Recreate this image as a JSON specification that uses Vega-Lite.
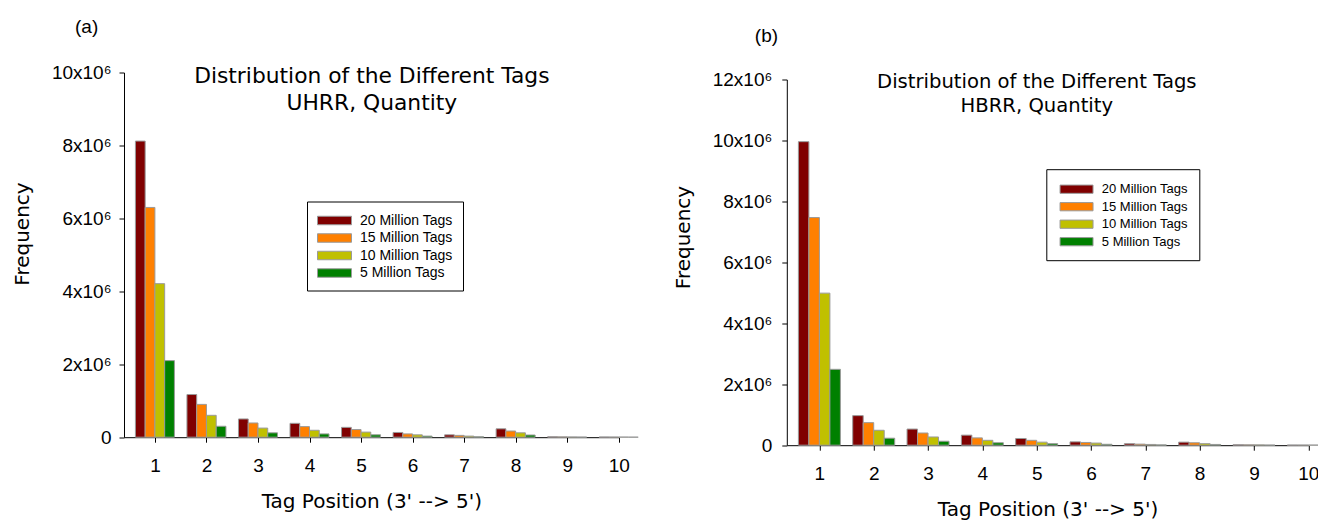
{
  "$schema": "https://vega.github.io/schema/vega-lite/v6.json",
  "background": "white",
  "padding": {"left": 12, "top": 17.5, "right": 5, "bottom": 0},
  "config": {
    "view": {"stroke": null},
    "font": "Liberation Sans",
    "axis": {"grid": false, "domainColor": "#000", "tickColor": "#000", "labelColor": "#000", "titleColor": "#000", "labelFont": "Liberation Sans", "titleFont": "DejaVu Sans", "titleFontWeight": "normal", "labelFontSize": 19, "titleFontSize": 20, "tickSize": 5, "domainWidth": 1, "tickWidth": 1},
    "title": {"font": "Liberation Sans", "fontWeight": "normal", "color": "#000", "fontSize": 19},
    "bar": {"stroke": "#9a9a9a", "strokeWidth": 1}
  },
  "datasets": {
    "a": [
      {"pos": 1, "series": "20 Million Tags", "freq": 8120000},
      {"pos": 1, "series": "15 Million Tags", "freq": 6300000},
      {"pos": 1, "series": "10 Million Tags", "freq": 4210000},
      {"pos": 1, "series": "5 Million Tags", "freq": 2100000},
      {"pos": 2, "series": "20 Million Tags", "freq": 1170000},
      {"pos": 2, "series": "15 Million Tags", "freq": 900000},
      {"pos": 2, "series": "10 Million Tags", "freq": 600000},
      {"pos": 2, "series": "5 Million Tags", "freq": 300000},
      {"pos": 3, "series": "20 Million Tags", "freq": 500000},
      {"pos": 3, "series": "15 Million Tags", "freq": 390000},
      {"pos": 3, "series": "10 Million Tags", "freq": 250000},
      {"pos": 3, "series": "5 Million Tags", "freq": 120000},
      {"pos": 4, "series": "20 Million Tags", "freq": 380000},
      {"pos": 4, "series": "15 Million Tags", "freq": 290000},
      {"pos": 4, "series": "10 Million Tags", "freq": 190000},
      {"pos": 4, "series": "5 Million Tags", "freq": 90000},
      {"pos": 5, "series": "20 Million Tags", "freq": 270000},
      {"pos": 5, "series": "15 Million Tags", "freq": 210000},
      {"pos": 5, "series": "10 Million Tags", "freq": 140000},
      {"pos": 5, "series": "5 Million Tags", "freq": 65000},
      {"pos": 6, "series": "20 Million Tags", "freq": 130000},
      {"pos": 6, "series": "15 Million Tags", "freq": 90000},
      {"pos": 6, "series": "10 Million Tags", "freq": 65000},
      {"pos": 6, "series": "5 Million Tags", "freq": 30000},
      {"pos": 7, "series": "20 Million Tags", "freq": 65000},
      {"pos": 7, "series": "15 Million Tags", "freq": 50000},
      {"pos": 7, "series": "10 Million Tags", "freq": 30000},
      {"pos": 7, "series": "5 Million Tags", "freq": 12000},
      {"pos": 8, "series": "20 Million Tags", "freq": 230000},
      {"pos": 8, "series": "15 Million Tags", "freq": 170000},
      {"pos": 8, "series": "10 Million Tags", "freq": 120000},
      {"pos": 8, "series": "5 Million Tags", "freq": 60000},
      {"pos": 9, "series": "20 Million Tags", "freq": 12000},
      {"pos": 9, "series": "15 Million Tags", "freq": 9000},
      {"pos": 9, "series": "10 Million Tags", "freq": 6000},
      {"pos": 9, "series": "5 Million Tags", "freq": 3000},
      {"pos": 10, "series": "20 Million Tags", "freq": 6000},
      {"pos": 10, "series": "15 Million Tags", "freq": 4000},
      {"pos": 10, "series": "10 Million Tags", "freq": 3000},
      {"pos": 10, "series": "5 Million Tags", "freq": 1500}
    ],
    "b": [
      {"pos": 1, "series": "20 Million Tags", "freq": 9960000},
      {"pos": 1, "series": "15 Million Tags", "freq": 7470000},
      {"pos": 1, "series": "10 Million Tags", "freq": 4990000},
      {"pos": 1, "series": "5 Million Tags", "freq": 2490000},
      {"pos": 2, "series": "20 Million Tags", "freq": 970000},
      {"pos": 2, "series": "15 Million Tags", "freq": 740000},
      {"pos": 2, "series": "10 Million Tags", "freq": 490000},
      {"pos": 2, "series": "5 Million Tags", "freq": 230000},
      {"pos": 3, "series": "20 Million Tags", "freq": 530000},
      {"pos": 3, "series": "15 Million Tags", "freq": 400000},
      {"pos": 3, "series": "10 Million Tags", "freq": 270000},
      {"pos": 3, "series": "5 Million Tags", "freq": 130000},
      {"pos": 4, "series": "20 Million Tags", "freq": 330000},
      {"pos": 4, "series": "15 Million Tags", "freq": 240000},
      {"pos": 4, "series": "10 Million Tags", "freq": 160000},
      {"pos": 4, "series": "5 Million Tags", "freq": 80000},
      {"pos": 5, "series": "20 Million Tags", "freq": 220000},
      {"pos": 5, "series": "15 Million Tags", "freq": 160000},
      {"pos": 5, "series": "10 Million Tags", "freq": 100000},
      {"pos": 5, "series": "5 Million Tags", "freq": 50000},
      {"pos": 6, "series": "20 Million Tags", "freq": 110000},
      {"pos": 6, "series": "15 Million Tags", "freq": 90000},
      {"pos": 6, "series": "10 Million Tags", "freq": 70000},
      {"pos": 6, "series": "5 Million Tags", "freq": 30000},
      {"pos": 7, "series": "20 Million Tags", "freq": 50000},
      {"pos": 7, "series": "15 Million Tags", "freq": 35000},
      {"pos": 7, "series": "10 Million Tags", "freq": 25000},
      {"pos": 7, "series": "5 Million Tags", "freq": 10000},
      {"pos": 8, "series": "20 Million Tags", "freq": 100000},
      {"pos": 8, "series": "15 Million Tags", "freq": 80000},
      {"pos": 8, "series": "10 Million Tags", "freq": 50000},
      {"pos": 8, "series": "5 Million Tags", "freq": 25000},
      {"pos": 9, "series": "20 Million Tags", "freq": 15000},
      {"pos": 9, "series": "15 Million Tags", "freq": 12000},
      {"pos": 9, "series": "10 Million Tags", "freq": 10000},
      {"pos": 9, "series": "5 Million Tags", "freq": 5000},
      {"pos": 10, "series": "20 Million Tags", "freq": 6000},
      {"pos": 10, "series": "15 Million Tags", "freq": 5000},
      {"pos": 10, "series": "10 Million Tags", "freq": 4000},
      {"pos": 10, "series": "5 Million Tags", "freq": 2000}
    ]
  },
  "bounds": "flush",
  "spacing": 167.8,
  "resolve": {"scale": {"color": "independent", "x": "independent", "y": "independent"}, "legend": {"color": "independent"}, "axis": {"x": "independent", "y": "independent"}},
  "hconcat": [
    {
      "width": 494.7,
      "height": 364.7,
      "title": {"text": "(a)", "anchor": "start", "frame": "group", "dx": -49, "offset": 27},
      "data": {"name": "a"},
      "resolve": {"axis": {"x": "independent"}},
      "encoding": {
        "x": {"field": "pos", "type": "quantitative", "scale": {"domain": [0.4, 10], "nice": false, "zero": false, "padding": 0}, "axis": null},
        "y": {"field": "freq", "type": "quantitative", "stack": null, "scale": {"domain": [0, 10000000], "nice": false},
          "axis": {"values": [0, 2000000, 4000000, 6000000, 8000000, 10000000], "labelExpr": "datum.value == 0 ? '0' : format(datum.value / 1000000, 'd') + 'x10⁶'", "labelPadding": 8, "title": "Frequency", "titleX": -95.7, "titleY": 161, "titleBaseline": "alphabetic", "titleAlign": "center", "titleAngle": -90}},
        "color": {"field": "series", "type": "nominal",
          "scale": {"domain": ["20 Million Tags", "15 Million Tags", "10 Million Tags", "5 Million Tags"], "range": ["#800000", "#ff8000", "#c0c000", "#008000"]},
          "legend": {"orient": "none", "legendX": 183, "legendY": 129, "title": null, "strokeColor": "#000", "fillColor": "white", "padding": 10, "symbolType": "M-2,-0.5L2,-0.5L2,0.5L-2,0.5Z", "symbolSize": 289, "symbolStrokeColor": "#9a9a9a", "symbolStrokeWidth": 1, "symbolOffset": 8.5, "labelOffset": 16.5, "labelFontSize": 14, "labelFont": "Liberation Sans", "labelColor": "#000", "rowPadding": 1.5}}
      },
      "layer": [
        {"transform": [{"filter": "datum.series == '20 Million Tags'"}], "mark": {"type": "bar", "width": 9.75, "xOffset": -14.625},
          "encoding": {"x": {"field": "pos", "type": "quantitative", "scale": {"domain": [0.4, 10], "nice": false, "zero": false, "padding": 0},
            "axis": {"orient": "bottom", "values": [1, 2, 3, 4, 5, 6, 7, 8, 9, 10], "format": "d", "labelFlush": false, "labelPadding": 14, "title": "Tag Position (3' --> 5')", "titleX": 247.35, "titleY": 70.6, "titleBaseline": "alphabetic", "titleAlign": "center"}}}},
        {"transform": [{"filter": "datum.series == '15 Million Tags'"}], "mark": {"type": "bar", "width": 9.75, "xOffset": -4.875},
          "encoding": {"x": {"field": "pos", "type": "quantitative", "scale": {"domain": [0.4, 10], "nice": false, "zero": false, "padding": 0},
            "axis": {"orient": "top", "domain": false, "ticks": false, "labels": false, "title": ["Distribution of the Different Tags", "UHRR, Quantity"], "titleFontSize": 21.8, "titleLineHeight": 26.7, "titleX": 247.35, "titleY": 10.3, "titleBaseline": "alphabetic", "titleAlign": "center"}}}},
        {"transform": [{"filter": "datum.series == '10 Million Tags'"}], "mark": {"type": "bar", "width": 9.75, "xOffset": 4.875}},
        {"transform": [{"filter": "datum.series == '5 Million Tags'"}], "mark": {"type": "bar", "width": 9.75, "xOffset": 14.625}}
      ]
    },
    {
      "width": 521.5,
      "height": 372.7,
      "title": {"text": "(b)", "anchor": "start", "frame": "group", "dx": -32, "offset": 25},
      "data": {"name": "b"},
      "resolve": {"axis": {"x": "independent"}},
      "encoding": {
        "x": {"field": "pos", "type": "quantitative", "scale": {"domain": [0.4, 10], "nice": false, "zero": false, "padding": 0}, "axis": null},
        "y": {"field": "freq", "type": "quantitative", "stack": null, "scale": {"domain": [0, 12000000], "nice": false, "range": [372.7, 7]},
          "axis": {"values": [0, 2000000, 4000000, 6000000, 8000000, 10000000, 12000000], "labelExpr": "datum.value == 0 ? '0' : format(datum.value / 1000000, 'd') + 'x10⁶'", "labelPadding": 10, "title": "Frequency", "titleX": -97.2, "titleY": 164.5, "titleBaseline": "alphabetic", "titleAlign": "center", "titleAngle": -90}},
        "color": {"field": "series", "type": "nominal",
          "scale": {"domain": ["20 Million Tags", "15 Million Tags", "10 Million Tags", "5 Million Tags"], "range": ["#800000", "#ff8000", "#c0c000", "#008000"]},
          "legend": {"orient": "none", "legendX": 259.5, "legendY": 96.7, "title": null, "strokeColor": "#000", "fillColor": "white", "padding": 11, "symbolType": "M-2,-0.5L2,-0.5L2,0.5L-2,0.5Z", "symbolSize": 272, "symbolStrokeColor": "#9a9a9a", "symbolStrokeWidth": 1, "symbolOffset": 10.25, "labelOffset": 16.25, "labelFontSize": 13, "labelFont": "Liberation Sans", "labelColor": "#000", "rowPadding": 1.5}}
      },
      "layer": [
        {"transform": [{"filter": "datum.series == '20 Million Tags'"}], "mark": {"type": "bar", "width": 10.5, "xOffset": -15.75},
          "encoding": {"x": {"field": "pos", "type": "quantitative", "scale": {"domain": [0.4, 10], "nice": false, "zero": false, "padding": 0},
            "axis": {"orient": "bottom", "values": [1, 2, 3, 4, 5, 6, 7, 8, 9, 10], "format": "d", "labelFlush": false, "labelPadding": 14, "title": "Tag Position (3' --> 5')", "titleX": 260.75, "titleY": 70.6, "titleBaseline": "alphabetic", "titleAlign": "center"}}}},
        {"transform": [{"filter": "datum.series == '15 Million Tags'"}], "mark": {"type": "bar", "width": 10.5, "xOffset": -5.25},
          "encoding": {"x": {"field": "pos", "type": "quantitative", "scale": {"domain": [0.4, 10], "nice": false, "zero": false, "padding": 0},
            "axis": {"orient": "top", "domain": false, "ticks": false, "labels": false, "title": ["Distribution of the Different Tags", "HBRR, Quantity"], "titleFontSize": 19.6, "titleLineHeight": 24, "titleX": 249.5, "titleY": 15.3, "titleBaseline": "alphabetic", "titleAlign": "center"}}}},
        {"transform": [{"filter": "datum.series == '10 Million Tags'"}], "mark": {"type": "bar", "width": 10.5, "xOffset": 5.25}},
        {"transform": [{"filter": "datum.series == '5 Million Tags'"}], "mark": {"type": "bar", "width": 10.5, "xOffset": 15.75}}
      ]
    }
  ]
}
